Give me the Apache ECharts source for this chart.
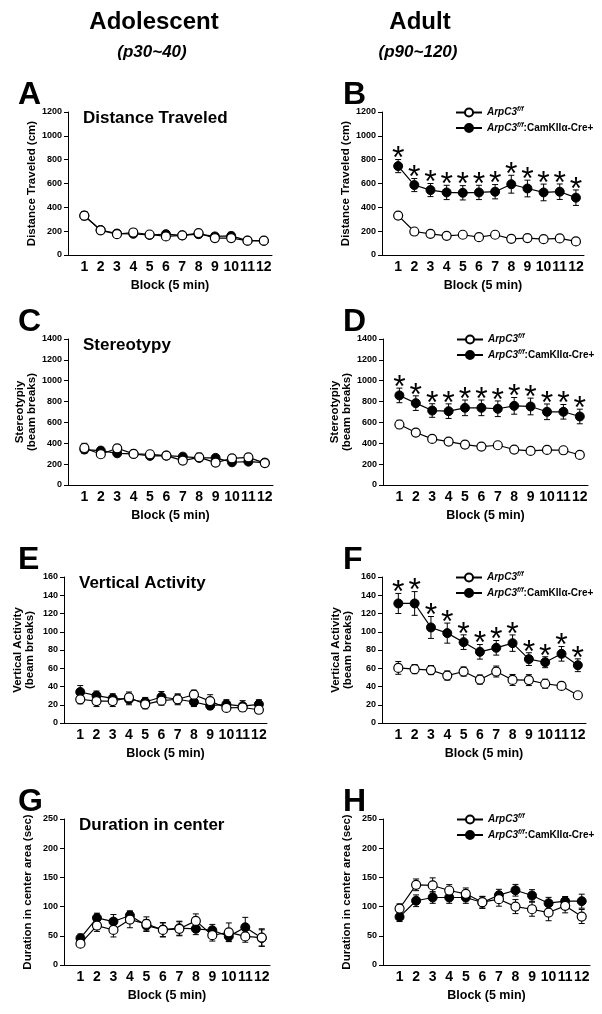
<!DOCTYPE html>
<html>
<head>
<meta charset="utf-8">
<script src="https://cdn.jsdelivr.net/npm/echarts@6/dist/echarts.min.js"></script>
<style>
  body { margin: 0; background: #fff; }
  #fig { width: 602px; height: 1014px; }
</style>
</head>
<body>
<div id="fig"></div>
<script>
  // blocks of 5 min
  var blocks = [1, 2, 3, 4, 5, 6, 7, 8, 9, 10, 11, 12]
  var wtName = 'ArpC3f/f'
  var koName = 'ArpC3f/f:CamKIIα-Cre+'

  // distance traveled (cm)
  var distAdolWT = [330, 207, 175, 189, 172, 156, 165, 184, 142, 142, 120, 120]
  var distAdolWTErr = [30, 20, 20, 18, 15, 20, 15, 18, 30, 30, 12, 15]
  var distAdolKO = [330, 210, 180, 178, 168, 175, 165, 175, 156, 160, 120, 118]
  var distAdolKOErr = [35, 20, 25, 25, 15, 25, 15, 30, 25, 30, 15, 20]
  var distAdultWT = [331, 197, 178, 161, 170, 150, 170, 136, 142, 133, 139, 114]
  var distAdultWTErr = [25, 10, 10, 10, 10, 10, 10, 10, 10, 10, 10, 10]
  var distAdultKO = [746, 587, 545, 525, 522, 525, 531, 594, 558, 525, 531, 481]
  var distAdultKOErr = [55, 55, 55, 60, 60, 60, 60, 75, 70, 70, 65, 65]

  // stereotypy (beam breaks)
  var stereoAdolWT = [355, 295, 352, 298, 295, 282, 234, 265, 215, 256, 265, 210]
  var stereoAdolWTErr = [45, 25, 30, 30, 30, 25, 25, 40, 25, 30, 25, 20]
  var stereoAdolKO = [340, 330, 304, 298, 279, 282, 272, 260, 260, 218, 224, 215]
  var stereoAdolKOErr = [35, 25, 25, 35, 25, 25, 25, 30, 25, 25, 25, 25]
  var stereoAdultWT = [580, 503, 442, 416, 388, 368, 381, 340, 327, 336, 333, 288]
  var stereoAdultWTErr = [40, 30, 20, 15, 15, 15, 12, 12, 12, 20, 12, 10]
  var stereoAdultKO = [859, 785, 714, 708, 740, 740, 731, 759, 753, 702, 702, 657]
  var stereoAdultKOErr = [70, 70, 65, 70, 75, 75, 75, 80, 80, 75, 70, 70]

  // vertical activity (beam breaks)
  var vertAdolWT = [26, 24, 24, 28, 20.5, 24.5, 26, 31, 24, 16.5, 17, 14.5]
  var vertAdolWTErr = [5, 6, 6, 6, 5, 5, 5, 5, 7, 4, 4, 4]
  var vertAdolKO = [34, 30, 27, 26, 23, 28.5, 26, 23, 19, 20.5, 18.5, 20.5]
  var vertAdolKOErr = [7, 5, 5, 6, 5, 6, 6, 5, 4, 5, 6, 5]
  var vertAdultWT = [60.4, 59, 58, 52, 56.4, 47.6, 56.4, 47.2, 47, 43, 40.6, 30.4]
  var vertAdultWTErr = [7, 5, 5, 5, 5, 5, 6, 6, 6, 5, 4, 3]
  var vertAdultKO = [131, 131, 104.7, 98.5, 88.6, 78, 82.4, 87.5, 70, 66.6, 75.8, 63.3]
  var vertAdultKOErr = [11, 13, 12, 11, 8, 8, 8, 9, 7, 6, 8, 7]

  // duration in center area (sec)
  var centAdolWT = [36.6, 67.5, 60, 77.8, 70.4, 60, 62, 75.5, 51, 56, 49, 47]
  var centAdolWTErr = [4, 10, 12, 14, 12, 12, 12, 12, 10, 16, 10, 15]
  var centAdolKO = [46, 80.7, 74.4, 84.7, 67.5, 60.6, 63, 62, 59.5, 49, 64.6, 46.3]
  var centAdolKOErr = [7, 8, 12, 8, 10, 12, 12, 10, 10, 8, 17, 14]
  var centAdultWT = [96.7, 137.3, 136.2, 127.6, 121.9, 107.6, 112.7, 100, 95.5, 89.8, 101.3, 83]
  var centAdultWTErr = [8, 10, 13, 10, 10, 10, 12, 12, 12, 14, 12, 12]
  var centAdultKO = [82.4, 110, 115.6, 115.6, 115.6, 107, 119.6, 128, 119, 105.8, 109.3, 109.3]
  var centAdultKOErr = [8, 10, 10, 10, 10, 10, 10, 10, 10, 10, 8, 12]

  // significant blocks (1 = asterisk)
  var sigAll = [1, 1, 1, 1, 1, 1, 1, 1, 1, 1, 1, 1]

  var font = '"Liberation Sans", Arial, sans-serif'

  var panels = [
    { letter: 'A', sub: 'Distance Traveled', grid: [68, 112, 204, 143], yMax: 1200, yStep: 200, yName: 'Distance Traveled (cm)',
      wt: distAdolWT, wtErr: distAdolWTErr, ko: distAdolKO, koErr: distAdolKOErr },
    { letter: 'B', grid: [382, 112, 202, 143], yMax: 1200, yStep: 200, yName: 'Distance Traveled (cm)',
      wt: distAdultWT, wtErr: distAdultWTErr, ko: distAdultKO, koErr: distAdultKOErr, sig: sigAll, legend: true },
    { letter: 'C', sub: 'Stereotypy', grid: [68, 339, 205, 146], yMax: 1400, yStep: 200, yName: 'Stereotypiy\n(beam breaks)',
      wt: stereoAdolWT, wtErr: stereoAdolWTErr, ko: stereoAdolKO, koErr: stereoAdolKOErr },
    { letter: 'D', grid: [383, 339, 205, 146], yMax: 1400, yStep: 200, yName: 'Stereotypiy\n(beam breaks)',
      wt: stereoAdultWT, wtErr: stereoAdultWTErr, ko: stereoAdultKO, koErr: stereoAdultKOErr, sig: sigAll, legend: true },
    { letter: 'E', sub: 'Vertical Activity', grid: [64, 577, 203, 146], yMax: 160, yStep: 20, yName: 'Vertical Activity\n(beam breaks)',
      wt: vertAdolWT, wtErr: vertAdolWTErr, ko: vertAdolKO, koErr: vertAdolKOErr },
    { letter: 'F', grid: [382, 577, 204, 146], yMax: 160, yStep: 20, yName: 'Vertical Activity\n(beam breaks)',
      wt: vertAdultWT, wtErr: vertAdultWTErr, ko: vertAdultKO, koErr: vertAdultKOErr, sig: sigAll, legend: true },
    { letter: 'G', sub: 'Duration in center', grid: [64, 819, 206, 146], yMax: 250, yStep: 50, yName: 'Duration in center area (sec)',
      wt: centAdolWT, wtErr: centAdolWTErr, ko: centAdolKO, koErr: centAdolKOErr },
    { letter: 'H', grid: [383, 819, 207, 146], yMax: 250, yStep: 50, yName: 'Duration in center area (sec)',
      wt: centAdultWT, wtErr: centAdultWTErr, ko: centAdultKO, koErr: centAdultKOErr, legend: true }
  ]

  function errRender(params, api) {
    var x = api.value(0), m = api.value(1), e = api.value(2)
    var lo = api.coord([x, m - e]), hi = api.coord([x, m + e])
    var w = 3
    var st = { stroke: '#000', lineWidth: 1 }
    return {
      type: 'group',
      children: [
        { type: 'line', shape: { x1: lo[0], y1: lo[1], x2: hi[0], y2: hi[1] }, style: st },
        { type: 'line', shape: { x1: hi[0] - w, y1: hi[1], x2: hi[0] + w, y2: hi[1] }, style: st },
        { type: 'line', shape: { x1: lo[0] - w, y1: lo[1], x2: lo[0] + w, y2: lo[1] }, style: st }
      ]
    }
  }

  function starRender(params, api) {
    var p = api.coord([api.value(0), api.value(1)])
    return {
      type: 'text',
      x: p[0], y: p[1],
      style: { text: '*', fontSize: 32, fontFamily: font, fill: '#000', textAlign: 'center', textVerticalAlign: 'middle' }
    }
  }

  var grids = [], xAxes = [], yAxes = [], series = [], legends = [], graphics = []

  panels.forEach(function (p, i) {
    grids.push({ left: p.grid[0], top: p.grid[1], width: p.grid[2], height: p.grid[3] })
    xAxes.push({
      gridIndex: i, type: 'value', min: 0, max: 12.5, interval: 1,
      name: 'Block (5 min)', nameLocation: 'middle', nameGap: 24,
      nameTextStyle: { fontFamily: font, fontWeight: 'bold', fontSize: 12.5, color: '#000' },
      axisLine: { lineStyle: { color: '#000', width: 1 } },
      axisTick: { show: false },
      splitLine: { show: false },
      axisLabel: {
        margin: 5, fontFamily: font, fontWeight: 'bold', fontSize: 14, color: '#000',
        formatter: function (v) { return (v >= 1 && v <= 12 && v % 1 === 0) ? String(v) : '' }
      }
    })
    yAxes.push({
      gridIndex: i, type: 'value', min: 0, max: p.yMax, interval: p.yStep,
      name: p.yName, nameLocation: 'middle', nameGap: p.yName.indexOf('\n') > 0 ? 28 : 30,
      nameTextStyle: { fontFamily: font, fontWeight: 'bold', fontSize: 11.5, color: '#000', lineHeight: 12 },
      axisLine: { show: true, lineStyle: { color: '#000', width: 1 } },
      axisTick: { show: true, length: 4, lineStyle: { color: '#000' } },
      splitLine: { show: false },
      axisLabel: {
        margin: 6, fontFamily: font, fontWeight: 'bold', fontSize: 9, color: '#000',
        formatter: function (v) { return String(v) }
      }
    })

    var wtData = blocks.map(function (b, k) { return [b, p.wt[k]] })
    var koData = blocks.map(function (b, k) { return [b, p.ko[k]] })
    var wtErrData = blocks.map(function (b, k) { return [b, p.wt[k], p.wtErr[k]] })
    var koErrData = blocks.map(function (b, k) { return [b, p.ko[k], p.koErr[k]] })

    series.push({
      type: 'custom', xAxisIndex: i, yAxisIndex: i, renderItem: errRender, data: koErrData,
      encode: { x: 0, y: 1 }, z: 1, silent: true
    })
    series.push({
      type: 'custom', xAxisIndex: i, yAxisIndex: i, renderItem: errRender, data: wtErrData,
      encode: { x: 0, y: 1 }, z: 1, silent: true
    })
    series.push({
      name: koName, type: 'line', xAxisIndex: i, yAxisIndex: i, data: koData,
      symbol: 'circle', symbolSize: 9, z: 3,
      lineStyle: { color: '#000', width: 1.2 },
      itemStyle: { color: '#000', borderColor: '#000', borderWidth: 1 }
    })
    series.push({
      name: wtName, type: 'line', xAxisIndex: i, yAxisIndex: i, data: wtData,
      symbol: 'circle', symbolSize: 9, z: 4,
      lineStyle: { color: '#000', width: 1.2 },
      itemStyle: { color: '#fff', borderColor: '#000', borderWidth: 1.2 }
    })
    if (p.sig) {
      var starData = []
      blocks.forEach(function (b, k) {
        if (p.sig[k]) starData.push([b, p.ko[k] + p.koErr[k]])
      })
      series.push({
        type: 'custom', xAxisIndex: i, yAxisIndex: i, renderItem: starRender, data: starData,
        encode: { x: 0, y: 1 }, z: 5, silent: true
      })
    }
    if (p.legend) {
      legends.push({
        orient: 'vertical', left: p.grid[0] + 73, top: p.grid[1] - 6, itemGap: 4, padding: 0,
        itemWidth: 26, itemHeight: 10, selectedMode: false,
        data: [wtName, koName],
        formatter: function (name) {
          return name === wtName ? '{i|ArpC3}{s|f/f}' : '{i|ArpC3}{s|f/f}{n|:CamKIIα-Cre+}'
        },
        textStyle: {
          fontFamily: font, color: '#000',
          rich: {
            i: { fontFamily: font, fontSize: 10, fontWeight: 'bold', fontStyle: 'italic', lineHeight: 13 },
            s: { fontFamily: font, fontSize: 7, fontWeight: 'bold', fontStyle: 'italic', lineHeight: 7, verticalAlign: 'top' },
            n: { fontFamily: font, fontSize: 10, fontWeight: 'bold', lineHeight: 13 }
          }
        }
      })
    }
    var left = i % 2 === 0
    graphics.push({
      type: 'text', left: left ? 18 : 343, top: p.grid[1] - 33,
      style: { text: p.letter, fontFamily: font, fontWeight: 'bold', fontSize: 32, fill: '#000' }
    })
    if (p.sub) {
      graphics.push({
        type: 'text', left: p.grid[0] + 15, top: p.grid[1] - 2,
        style: { text: p.sub, fontFamily: font, fontWeight: 'bold', fontSize: 17, fill: '#000' }
      })
    }
  })

  graphics.push(
    { type: 'text', x: 154, y: 22, style: { text: 'Adolescent', fontFamily: font, fontWeight: 'bold', fontSize: 24, fill: '#000', textAlign: 'center', textVerticalAlign: 'middle' } },
    { type: 'text', x: 152, y: 52, style: { text: '(p30~40)', fontFamily: font, fontWeight: 'bold', fontStyle: 'italic', fontSize: 17, fill: '#000', textAlign: 'center', textVerticalAlign: 'middle' } },
    { type: 'text', x: 420, y: 22, style: { text: 'Adult', fontFamily: font, fontWeight: 'bold', fontSize: 24, fill: '#000', textAlign: 'center', textVerticalAlign: 'middle' } },
    { type: 'text', x: 418, y: 52, style: { text: '(p90~120)', fontFamily: font, fontWeight: 'bold', fontStyle: 'italic', fontSize: 17, fill: '#000', textAlign: 'center', textVerticalAlign: 'middle' } }
  )

  var chart = echarts.init(document.getElementById('fig'))
  chart.setOption({
    backgroundColor: '#fff',
    animation: false,
    grid: grids,
    xAxis: xAxes,
    yAxis: yAxes,
    legend: legends,
    series: series,
    graphic: graphics
  })
</script>
</body>
</html>
